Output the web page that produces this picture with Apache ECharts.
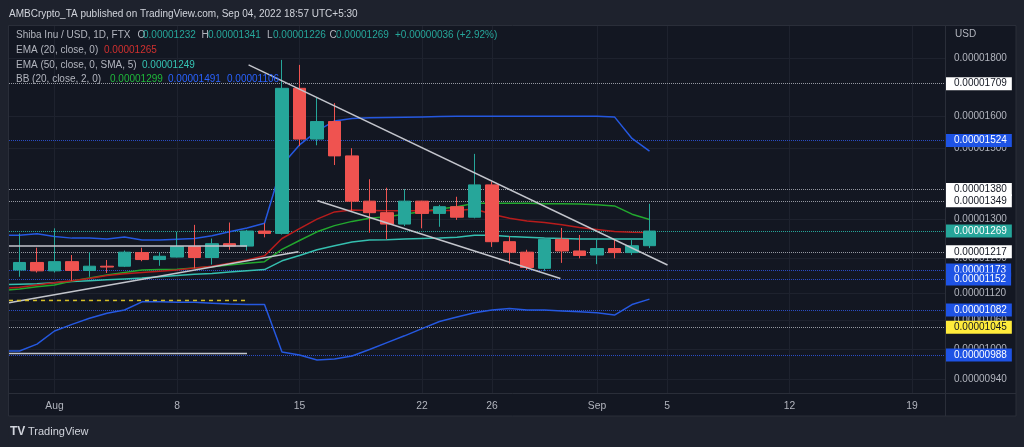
<!DOCTYPE html>
<html><head><meta charset="utf-8">
<script src="https://cdn.jsdelivr.net/npm/echarts@6/dist/echarts.min.js"></script>
<style>html,body{margin:0;padding:0;background:#131722;}#c{width:1024px;height:447px;}</style>
</head><body><div id="c"></div><script>
// Prices are stored in units of 1e-8 USD (1232 means 0.00001232)
const SCALE = 1e-8;
const FONT = '"Liberation Sans", Arial, sans-serif';

const candleDates = ['2022-07-30','2022-07-31','2022-08-01','2022-08-02','2022-08-03','2022-08-04','2022-08-05','2022-08-06','2022-08-07','2022-08-08','2022-08-09','2022-08-10','2022-08-11','2022-08-12','2022-08-13','2022-08-14','2022-08-15','2022-08-16','2022-08-17','2022-08-18','2022-08-19','2022-08-20','2022-08-21','2022-08-22','2022-08-23','2022-08-24','2022-08-25','2022-08-26','2022-08-27','2022-08-28','2022-08-29','2022-08-30','2022-08-31','2022-09-01','2022-09-02','2022-09-03','2022-09-04'];
const openP  = [1173,1191,1171,1193,1172,1182,1182,1215,1198,1204,1230,1203,1237,1231,1269,1263,1693,1528,1583,1477,1348,1317,1287,1348,1315,1333,1305,1393,1242,1216,1177,1248,1219,1209,1225,1215,1232];
const closeP = [1191,1171,1193,1172,1182,1180,1216,1198,1206,1230,1203,1237,1231,1269,1263,1693,1528,1583,1477,1348,1317,1287,1348,1315,1333,1305,1393,1242,1216,1179,1248,1219,1208,1225,1215,1232,1269];
const lowP   = [1157,1167,1167,1148,1157,1166,1180,1194,1183,1203,1177,1186,1222,1220,1253,1260,1507,1509,1450,1322,1265,1248,1282,1276,1280,1298,1302,1229,1187,1173,1171,1190,1201,1187,1201,1209,1226];
const highP  = [1263,1227,1276,1209,1216,1197,1220,1227,1216,1267,1285,1250,1291,1272,1289,1793,1775,1661,1643,1500,1409,1385,1381,1349,1338,1360,1483,1402,1256,1222,1250,1277,1259,1248,1248,1246,1341];

// indicator lines start one day earlier (they reach the left edge of the pane)
const lineDates = ['2022-07-29'].concat(candleDates);
const ema20     = [1130,1133,1138,1143,1148,1153,1160,1164,1167,1170,1173,1178,1182,1189,1197,1207,1250,1275,1300,1319,1324,1323,1322,1322,1322,1323,1323,1327,1313,1302,1295,1291,1285,1278,1273,1268,1266,1265];
const ema50sma5 = [1139,1140,1141,1143,1146,1148,1150,1152,1154,1157,1160,1163,1165,1168,1171,1174,1195,1208,1222,1232,1241,1246,1247,1249,1250,1251,1253,1258,1258,1255,1253,1251,1250,1249,1249,1249,1249,1249];
const bbBasis   = [1125,1129,1134,1138,1147,1154,1161,1167,1173,1174,1175,1178,1181,1185,1189,1193,1223,1245,1267,1283,1294,1302,1306,1313,1320,1327,1333,1342,1342,1342,1342,1341,1341,1340,1338,1335,1313,1299];
const bbUpper   = [1258,1258,1262,1255,1251,1251,1249,1254,1246,1246,1248,1250,1257,1267,1277,1289,1450,1510,1553,1585,1593,1595,1596,1597,1598,1599,1600,1600,1600,1600,1600,1600,1600,1600,1600,1598,1530,1491];
const bbLower   = [996,996,1010,1037,1051,1064,1075,1082,1100,1100,1099,1099,1097,1095,1094,1094,994,988,978,980,986,999,1013,1027,1042,1057,1067,1076,1082,1085,1082,1082,1080,1078,1076,1071,1094,1106];

// user drawings: [day offset from Aug 1, price]
const trendUpper   = [[11.09,1775],[35.03,1185]];
const trendLower   = [[15.03,1349],[28.91,1153]];
const trendRising  = [[-2.6,1098],[13.94,1217]];
const flatTop      = [[-2.6,1231],[11.0,1231]];
const flatBottom   = [[-2.6,991],[11.0,991]];
const flatYellow   = [[-2.6,1103],[11.0,1103]];

// axes
const priceTicks = [1800,1600,1500,1300,1200,1120,1060,1000,940];
const xTickDates = ['2022-08-01','2022-08-08','2022-08-15','2022-08-22','2022-08-26','2022-09-01','2022-09-05','2022-09-12','2022-09-19'];
const xTickLabels = ['Aug','8','15','22','26','Sep','5','12','19'];

// price levels on the right scale
const levelValues = [1709,1524,1380,1349,1269,1217,1173,1152,1082,1045,988];
const levelKinds  = ['white','blue','white','white','last','white','blue','blue','blue','yellow','blue'];

const fmt = v => (v * SCALE).toFixed(8);
const dayOf = s => (Date.parse(s) - Date.parse('2022-08-01')) / 86400000;
const xTicks = xTickDates.map(dayOf);

const candleData = candleDates.map((d, i) => [dayOf(d), openP[i], closeP[i], lowP[i], highP[i]]);
const lineXY = arr => lineDates.map((d, i) => [dayOf(d), arr[i]]);
const bbDiff = bbUpper.map((v, i) => v - bbLower[i]);

const kindStyle = {
  white:  {line: '#9598a1', type: 'dotted', bg: '#ffffff', fg: '#131722'},
  blue:   {line: '#2a4cc4', type: 'dotted', bg: '#1e53e5', fg: '#ffffff'},
  last:   {line: '#26a69a', type: 'dotted', bg: '#26a69a', fg: '#ffffff'},
  yellow: {line: '#9598a1', type: 'dotted', bg: '#ffeb3b', fg: '#131722'}
};

const chart = echarts.init(document.getElementById('c'), null, {renderer: 'canvas'});

const txt = (text, x, y, fill, font) => ({
  type: 'text', z: 100, silent: true,
  style: {text, x, y, fill, font: font || ('10px ' + FONT), verticalAlign: 'middle', align: 'left'}
});

const simpleLine = (data, color, width, z, type) => ({
  type: 'line', data, showSymbol: false, symbol: 'none', silent: true, z: z,
  lineStyle: {color, width, type: type || 'solid'}, animation: false
});

chart.setOption({
  backgroundColor: '#131722',
  animation: false,
  grid: {left: 9, right: 79, top: 26, bottom: 54, containLabel: false},
  xAxis: {
    type: 'value', min: -2.6, max: 50.886,
    axisLine: {show: false},
    axisTick: {show: false, customValues: xTicks},
    axisLabel: {
      customValues: xTicks, color: '#b2b5be', fontSize: 10.3, fontFamily: FONT, margin: 8,
      formatter: v => { const i = xTicks.findIndex(t => Math.abs(t - v) < 0.01); return i >= 0 ? xTickLabels[i] : ''; }
    },
    splitLine: {show: true, lineStyle: {color: '#1e222e', width: 1}}
  },
  yAxis: {
    type: 'log', logBase: 10, min: 915, max: 1920, position: 'right',
    axisLine: {show: false}, axisTick: {show: false}, axisLabel: {show: false}, splitLine: {show: false}
  },
  graphic: [
    // outer frame
    {type: 'rect', z: 50, silent: true, shape: {x: 0, y: 0, width: 1024, height: 25}, style: {fill: '#1e222d'}},
    {type: 'rect', z: 50, silent: true, shape: {x: 0, y: 416, width: 1024, height: 31}, style: {fill: '#1e222d'}},
    {type: 'rect', z: 50, silent: true, shape: {x: 0, y: 0, width: 8.5, height: 447}, style: {fill: '#1e222d'}},
    {type: 'rect', z: 50, silent: true, shape: {x: 1016, y: 0, width: 8, height: 447}, style: {fill: '#1e222d'}},
    {type: 'rect', z: 51, silent: true, shape: {x: 8.5, y: 25.5, width: 1007.5, height: 390.5}, style: {fill: 'none', stroke: '#2a2e39', lineWidth: 1}},
    {type: 'line', z: 51, silent: true, shape: {x1: 8.5, y1: 393.5, x2: 1016, y2: 393.5}, style: {stroke: '#2a2e39', lineWidth: 1}},
    {type: 'line', z: 51, silent: true, shape: {x1: 945.5, y1: 25.5, x2: 945.5, y2: 416}, style: {stroke: '#2a2e39', lineWidth: 1}},
    // header
    txt('AMBCrypto_TA published on TradingView.com, Sep 04, 2022 18:57 UTC+5:30', 9, 14, '#d1d4dc'),
    // legend
    txt('Shiba Inu / USD, 1D, FTX', 16, 35.5, '#b2b5be'),
    txt('O', 137.5, 35.5, '#b2b5be'), txt('0.00001232', 143, 35.5, '#26a69a'),
    txt('H', 201.5, 35.5, '#b2b5be'), txt('0.00001341', 208, 35.5, '#26a69a'),
    txt('L', 267, 35.5, '#b2b5be'), txt('0.00001226', 273, 35.5, '#26a69a'),
    txt('C', 329.5, 35.5, '#b2b5be'), txt('0.00001269', 336, 35.5, '#26a69a'),
    txt('+0.00000036 (+2.92%)', 395, 35.5, '#26a69a'),
    txt('EMA (20, close, 0)', 16, 50.5, '#b2b5be'), txt('0.00001265', 104, 50.5, '#d0302f'),
    txt('EMA (50, close, 0, SMA, 5)', 16, 65, '#b2b5be'), txt('0.00001249', 142, 65, '#35c4b4'),
    txt('BB (20, close, 2, 0)', 16, 79.5, '#b2b5be'), txt('0.00001299', 110, 79.5, '#1fb83a'),
    txt('0.00001491', 168, 79.5, '#2962ff'), txt('0.00001106', 227, 79.5, '#2962ff'),
    // price axis caption
    txt('USD', 955, 34, '#b2b5be'),
    // footer
    txt('TV', 10, 432, '#d1d4dc', 'bold 12px ' + FONT),
    txt('TradingView', 28, 432, '#d1d4dc', '11px ' + FONT)
  ],
  series: [
    // Bollinger fill
    {type: 'line', stack: 'bb', data: lineXY(bbLower), showSymbol: false, symbol: 'none', silent: true, z: 1,
     lineStyle: {opacity: 0}},
    {type: 'line', stack: 'bb', data: lineXY(bbDiff), showSymbol: false, symbol: 'none', silent: true, z: 1,
     lineStyle: {opacity: 0}, areaStyle: {color: 'rgba(41,98,255,0.1)'}},
    // tick labels + horizontal grid
    Object.assign(simpleLine(lineXY(bbLower), '#2558e0', 1.5, 2), {
      markLine: {
        z: 1, silent: true, symbol: ['none', 'none'], animation: false,
        lineStyle: {color: '#1e222e', width: 1, type: 'solid'},
        label: {show: true, position: 'end', distance: 9, color: '#b2b5be', fontSize: 10, fontFamily: FONT,
                formatter: p => fmt(p.value)},
        emphasis: {disabled: true},
        data: priceTicks.map(v => ({yAxis: v}))
      }
    }),
    simpleLine(lineXY(bbUpper), '#2558e0', 1.5, 2),
    simpleLine(lineXY(ema50sma5), '#35bfb0', 1.5, 2),
    simpleLine(lineXY(bbBasis), '#22a82e', 1.5, 2),
    simpleLine(lineXY(ema20), '#b71c1c', 1.5, 2),
    {
      type: 'candlestick', z: 3, silent: true, barWidth: 13,
      encode: {x: 0, y: [1, 2, 3, 4]},
      data: candleData,
      itemStyle: {color: '#26a69a', color0: '#ef5350', borderColor: '#26a69a', borderColor0: '#ef5350', borderWidth: 1},
      markLine: {
        z: 1.5, silent: true, symbol: ['none', 'none'], animation: false,
        emphasis: {disabled: true},
        data: levelValues.map((v, i) => {
          const k = kindStyle[levelKinds[i]];
          return {
            yAxis: v,
            lineStyle: {color: k.line, width: 1, type: k.type},
            label: {show: true, position: 'end', distance: 1, formatter: fmt(v),
                    backgroundColor: k.bg, color: k.fg, fontSize: 10, fontFamily: FONT,
                    lineHeight: 11, padding: [1, 5, 1, 8]}
          };
        })
      }
    },
    // drawings
    simpleLine(trendUpper, '#c3c5cc', 1.5, 4),
    simpleLine(trendLower, '#c3c5cc', 1.5, 4),
    simpleLine(trendRising, '#c3c5cc', 1.5, 4),
    simpleLine(flatTop, '#c3c5cc', 1.5, 4),
    simpleLine(flatBottom, '#c3c5cc', 1.5, 4),
    simpleLine(flatYellow, '#d8c02a', 1.5, 4, [4, 4])
  ]
});
</script></body></html>
